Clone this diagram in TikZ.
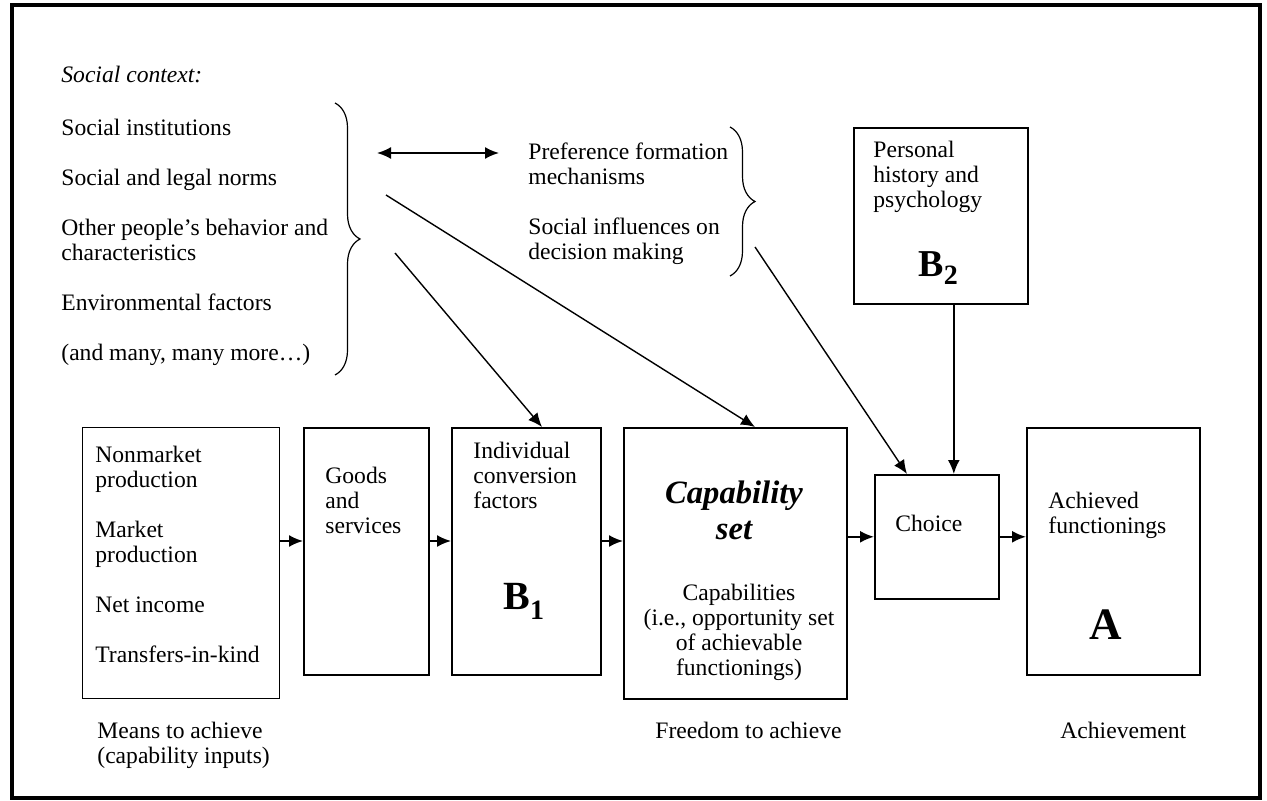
\documentclass[tikz,border=0pt]{standalone}
\usepackage{fontspec}
\setmainfont{Liberation Serif}
\usetikzlibrary{arrows.meta,decorations.pathreplacing}
\newcommand{\bigletter}[4]{%
  {\fontsize{#3}{#3}\selectfont\bfseries #1\raisebox{-#4}{\fontsize{14}{14}\selectfont #2}}%
}

\begin{document}
\begin{tikzpicture}[
      x=0.5pt, y=-0.5pt,
      every node/.style={inner sep=0pt, font=\fontsize{11.8}{12.5}\selectfont},
      txt/.style={anchor=north west, align=left},
      box/.style={draw, anchor=north west, line width=0.8pt},
      arr/.style={-{Latex[length=7pt,width=6pt]}, line width=0.9pt},
      link/.style={-{Latex[length=7pt,width=6pt]}, line width=0.7pt},
      curly/.style={decorate, decoration={brace, amplitude=12.5pt}, line width=0.6pt}
    ]
      \useasboundingbox (0,0) rectangle (1267,801);
      \draw[line width=1.6pt] (12,5) rectangle (1260,798);

      % social context
      \node[anchor=base west, font=\fontsize{11.8}{12.5}\selectfont\itshape] (ctxhead) at (61,83) {Social context:};
      \node[txt] (ctx) at (61,119) {Social institutions\\[12.5pt]
        Social and legal norms\\[12.5pt]
        Other people’s behavior and\\ characteristics\\[12.5pt]
        Environmental factors\\[12.5pt]
        (and many, many more\ldots)};
      \draw[curly] (335,103) -- (335,375);
      \node[txt] (pref) at (528,142) {Preference formation\\ mechanisms\\[12.5pt]
        Social influences on\\ decision making};
      \draw[curly] (730,127) -- (730,276);
      \coordinate (dl) at (377,153);
      \coordinate (dr) at (499,153);
      \draw[{Latex[length=7pt,width=6pt]}-{Latex[length=7pt,width=6pt]}, line width=0.9pt] (dl) -- (dr);

      % boxes
      \node[box, line width=0.6pt, minimum width=98.5pt, minimum height=135.5pt] (means) at (82,427) {};
      \node[box, line width=1.1pt, minimum width=62.5pt, minimum height=123.5pt] (goods) at (303,427) {};
      \node[box, line width=1.1pt, minimum width=74.5pt, minimum height=123.5pt] (b1) at (451,427) {};
      \node[box, minimum width=111.5pt, minimum height=135.5pt] (cap) at (623,427) {};
      \node[box, minimum width=62pt, minimum height=62pt] (choice) at (874,474) {};
      \node[box, line width=1pt, minimum width=86.5pt, minimum height=123.5pt] (abox) at (1026,427) {};
      \node[box, minimum width=87pt, minimum height=88pt] (b2) at (853,127) {};

      % box texts
      \node[txt] (meanstxt) at (95,446) {Nonmarket\\ production\\[12.5pt]
        Market\\ production\\[12.5pt] Net income\\[12.5pt] Transfers-in-kind};
      \node[txt] (goodstxt) at (325,467) {Goods\\ and\\ services};
      \node[txt] (b1txt) at (473,442) {Individual\\ conversion\\ factors};
      \node[anchor=base west] (b1lbl) at (503,609) {\bigletter{B}{1}{20}{5pt}};
      \node[anchor=north, align=center, font=\fontsize{16.3}{18}\selectfont\bfseries\itshape] (captitle) at (734,480) {Capability\\ set};
      \node[anchor=north, align=center] (captxt) at (739,584) {Capabilities\\ (i.e., opportunity set\\ of achievable\\ functionings)};
      \node[anchor=base west] (choicetxt) at (895,531) {Choice};
      \node[txt] (atxt) at (1048,492) {Achieved\\ functionings};
      \node[anchor=base, font=\fontsize{22.5}{22.5}\selectfont\bfseries] (albl) at (1106,639) {A};
      \node[txt] (b2txt) at (873,141) {Personal\\ history and\\ psychology};
      \node[anchor=base west] (b2lbl) at (918,277) {\bigletter{B}{2}{19}{4pt}};

      % captions
      \node[txt] (meanscap) at (97,722) {Means to achieve\\ (capability inputs)};
      \node[anchor=base west] (freecap) at (655,738) {Freedom to achieve};
      \node[anchor=base west] (achcap) at (1060,738) {Achievement};

      % connectors
      \coordinate (row) at (0,541);
      \draw[arr] (means.east |- row) -- (goods.west |- row);
      \draw[arr] (goods.east |- row) -- (b1.west |- row);
      \draw[arr] (b1.east |- row) -- (cap.west |- row);
      \draw[arr] (cap.east |- choice.west) -- (choice.west);
      \draw[arr] (choice.east) -- (abox.west |- choice.east);
      \draw[arr] ([xshift=6.5pt]b2.south) -- ([xshift=6.5pt]b2.south |- choice.north);
      \coordinate (s1) at (386,195);
      \coordinate (s2) at (395,253);
      \coordinate (s3) at (755,247);
      \draw[link] (s1) -- ([xshift=66pt]cap.north west);
      \draw[link] (s2) -- ([xshift=45.5pt]b1.north west);
      \draw[link] (s3) -- ([xshift=16.5pt]choice.north west);
    \end{tikzpicture}
\end{document}
